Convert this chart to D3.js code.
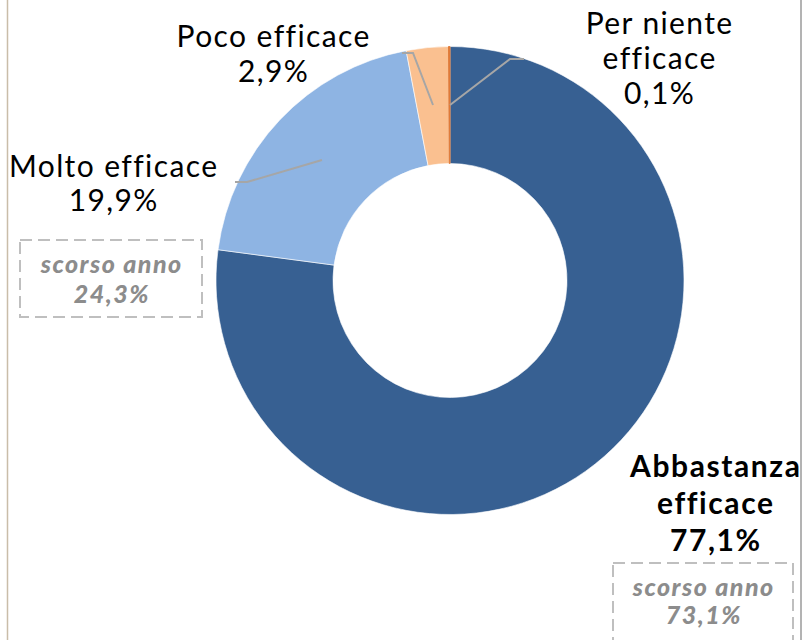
<!DOCTYPE html>
<html><head><meta charset="utf-8">
<script src="https://cdn.jsdelivr.net/npm/d3@7"></script>
<style>body{margin:0;background:#fff}svg{display:block}</style>
</head><body>
<svg id="c" width="802" height="640"></svg>
<script>
const categories = ["Abbastanza efficace", "Molto efficace", "Poco efficace", "Per niente efficace"];
const values = [77.1, 19.9, 2.9, 0.1];
const valueLabels = ["77,1%", "19,9%", "2,9%", "0,1%"];
const lastYearCategories = ["Molto efficace", "Abbastanza efficace"];
const lastYearLabels = ["24,3%", "73,1%"];
const colors = ["#376092", "#8eb4e3", "#fac090", "#e07b39"];

const svg = d3.select("#c");
const W = 802, H = 640;
const cx = 450, cy = 280.5, rOut = 234, rIn = 117;
const font = "Lato, 'Noto Sans', sans-serif";

// frame lines
svg.append("line").attr("x1",7.5).attr("x2",7.5).attr("y1",0).attr("y2",H).attr("stroke","#c9bda9").attr("stroke-width",1.5);
svg.append("line").attr("x1",801).attr("x2",801).attr("y1",0).attr("y2",H).attr("stroke","#9a9a9a").attr("stroke-width",1.5);

const pie = d3.pie().sort(null).value(d => d)(values);
const arc = d3.arc().innerRadius(rIn).outerRadius(rOut);
const g = svg.append("g").attr("transform", `translate(${cx},${cy})`);
g.selectAll("path").data(pie).join("path")
  .attr("d", arc)
  .attr("fill", (d,i) => colors[i])
  .attr("stroke", (d,i) => i === 3 ? colors[3] : "#ffffff")
  .attr("stroke-width", (d,i) => i === 3 ? 1 : 0.6);

// leader lines
const leaders = [
  null,
  [[235,182],[247,182],[322,160]],
  [[402,53],[413,53],[433,105]],
  [[524,59],[510,59],[450,105]]
];
leaders.forEach(p => {
  if (!p) return;
  svg.append("polyline").attr("points", p.map(q=>q.join(",")).join(" "))
    .attr("fill","none").attr("stroke","#a6a6a6").attr("stroke-width",2);
});

// labels
const labelSpecs = [
  {x:715, lines:["Abbastanza","efficace", valueLabels[0]], y0:477, dy:37, bold:true, ls:1.6},
  {x:113, lines:["Molto efficace", valueLabels[1]], y0:177, dy:34, bold:false, ls:1.4},
  {x:273, lines:["Poco efficace", valueLabels[2]], y0:47, dy:35, bold:false, ls:1.4},
  {x:659, lines:["Per niente","efficace", valueLabels[3]], y0:34, dy:35, bold:false, ls:1.4}
];
labelSpecs.forEach(s => {
  const t = svg.append("text").attr("text-anchor","middle")
    .attr("font-family", font).attr("font-size", 30)
    .attr("letter-spacing", s.ls)
    .attr("font-weight", s.bold ? 700 : 400).attr("fill","#000");
  s.lines.forEach((l,i) => t.append("tspan").attr("x", s.x + s.ls/2).attr("y", s.y0 + i*s.dy).text(l));
});

// last year boxes
const boxes = [
  {x0:20, x1:202, y0:240, y1:317, cx:111, b1:273, b2:303},
  {x0:613, x1:793, y0:563, y1:660, cx:703, b1:596, b2:624}
];
boxes.forEach((b,i) => {
  svg.append("rect").attr("x",b.x0).attr("y",b.y0).attr("width",b.x1-b.x0).attr("height",b.y1-b.y0)
    .attr("fill","none").attr("stroke","#bfbfbf").attr("stroke-width",2).attr("stroke-dasharray","12,6");
  const t = svg.append("text").attr("text-anchor","middle").attr("font-family",font)
    .attr("font-size",25).attr("font-weight",900).attr("font-style","italic").attr("fill","#8c8c8c")
    .attr("letter-spacing",1.5);
  t.append("tspan").attr("x",b.cx+0.75).attr("y",b.b1).text("scorso anno");
  t.append("tspan").attr("x",b.cx+0.75).attr("y",b.b2).text(lastYearLabels[i]);
});
</script>
</body></html>
